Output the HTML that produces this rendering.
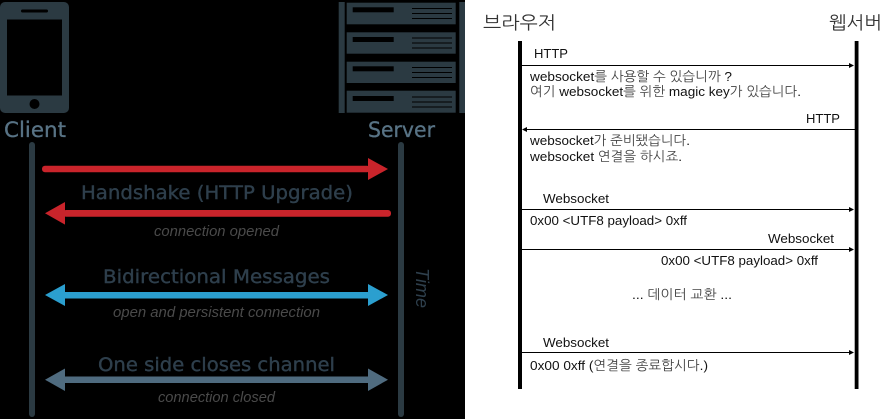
<!DOCTYPE html>
<html>
<head>
<meta charset="utf-8">
<style>
html,body{margin:0;padding:0;background:#fff;width:888px;height:419px;overflow:hidden}
svg{display:block}
.h{font-family:"DejaVu Sans",sans-serif;fill:#2e3f4c;stroke:#2e3f4c;stroke-width:.4px;font-size:19px}
.s{font-family:"Liberation Sans",sans-serif;font-style:italic;fill:#4a4a4a;font-size:15px}
.c{font-family:"DejaVu Sans",sans-serif;fill:#587385;stroke:#587385;stroke-width:.3px;font-size:21px}
.t{font-family:"Liberation Sans","NanumGothic","Noto Sans CJK KR",sans-serif;fill:#111;font-size:13.3px}
.t tspan{fill:#444}
.k{font-family:"NanumGothic","Noto Sans CJK KR",sans-serif;fill:#333;font-size:18px}
</style>
</head>
<body>
<svg width="888" height="419" viewBox="0 0 888 419" xmlns="http://www.w3.org/2000/svg">
<rect x="0" y="0" width="888" height="419" fill="#fff"/>
<rect x="0" y="0" width="465" height="419" fill="#000"/>

<!-- phone -->
<rect x="0" y="2" width="69" height="111" rx="5" fill="#2b3a42"/>
<rect x="7" y="19.5" width="55" height="76" fill="#000"/>
<rect x="21" y="9.5" width="27" height="3" rx="1.5" fill="#000"/>
<circle cx="34.5" cy="104" r="5" fill="#000"/>

<!-- server -->
<g fill="#2b3a42">
<rect x="338.7" y="2" width="6" height="111"/>
<rect x="459.3" y="2" width="5.7" height="111"/>
<rect x="346.7" y="2.7" width="109" height="21.6"/>
<rect x="346.7" y="32.3" width="109" height="21.4"/>
<rect x="346.7" y="61.7" width="109" height="21.3"/>
<rect x="346.7" y="90.7" width="109" height="22"/>
</g>
<g fill="#000">
<rect x="352.7" y="7.3" width="41" height="5"/>
<rect x="352.7" y="37" width="41" height="5"/>
<rect x="352.7" y="66.3" width="41" height="5"/>
<rect x="352.7" y="96" width="41" height="5"/>
<rect x="412" y="8" width="40" height="1"/><rect x="412" y="13" width="40" height="1"/><rect x="412" y="18" width="40" height="1"/>
<rect x="412" y="37.5" width="40" height="1"/><rect x="412" y="42.5" width="40" height="1"/><rect x="412" y="47.5" width="40" height="1"/>
<rect x="412" y="67" width="40" height="1"/><rect x="412" y="72" width="40" height="1"/><rect x="412" y="77" width="40" height="1"/>
<rect x="412" y="96.5" width="40" height="1"/><rect x="412" y="101.5" width="40" height="1"/><rect x="412" y="106.5" width="40" height="1"/>
</g>

<text class="c" x="4" y="137" textLength="62" lengthAdjust="spacingAndGlyphs">Client</text>
<text class="c" x="368" y="137" textLength="67" lengthAdjust="spacingAndGlyphs">Server</text>

<!-- timelines -->
<rect x="29" y="142" width="6" height="275" rx="3" fill="#2b3a42"/>
<rect x="398" y="142" width="6" height="275" rx="3" fill="#2b3a42"/>

<!-- red right -->
<rect x="42" y="165.8" width="328" height="6.5" rx="3" fill="#c9242b"/>
<polygon points="368,158 388,169 368,180" fill="#c9242b"/>
<!-- red left -->
<rect x="63" y="210" width="328" height="6.7" rx="3" fill="#c9242b"/>
<polygon points="65,202 45,213.3 65,224.6" fill="#c9242b"/>
<!-- blue -->
<rect x="63" y="292" width="307" height="6.5" fill="#2b9fcf"/>
<polygon points="65,284 45,295 65,306" fill="#2b9fcf"/>
<polygon points="368,284 388,295 368,306" fill="#2b9fcf"/>
<!-- grey -->
<rect x="63" y="376.5" width="307" height="6.5" fill="#4f6b7f"/>
<polygon points="65,368.5 45,379.7 65,391" fill="#4f6b7f"/>
<polygon points="368,368.5 388,379.7 368,391" fill="#4f6b7f"/>

<text class="h" x="81" y="199" textLength="272" lengthAdjust="spacingAndGlyphs">Handshake (HTTP Upgrade)</text>
<text class="s" x="154" y="236" textLength="125" lengthAdjust="spacingAndGlyphs">connection opened</text>
<text class="h" x="103" y="283" textLength="227" lengthAdjust="spacingAndGlyphs">Bidirectional Messages</text>
<text class="s" x="113" y="317" textLength="207" lengthAdjust="spacingAndGlyphs">open and persistent connection</text>
<text class="h" x="98" y="371" textLength="237" lengthAdjust="spacingAndGlyphs">One side closes channel</text>
<text class="s" x="158" y="402" textLength="117" lengthAdjust="spacingAndGlyphs">connection closed</text>
<text class="s" transform="translate(416,268) rotate(90)" x="0" y="0" textLength="40" lengthAdjust="spacingAndGlyphs" style="fill:#2e3f4c;font-size:18px">Time</text>

<!-- right panel -->
<text class="k" x="483" y="29" textLength="73" lengthAdjust="spacingAndGlyphs">브라우저</text>
<text class="k" x="829" y="29" textLength="53" lengthAdjust="spacingAndGlyphs">웹서버</text>

<rect x="518" y="41" width="4" height="348" fill="#000"/>
<rect x="854.7" y="41" width="3.8" height="348" fill="#000"/>

<g stroke="#000" stroke-width="1">
<line x1="522" y1="65.5" x2="850" y2="65.5"/>
<line x1="526" y1="129.5" x2="855" y2="129.5"/>
<line x1="522" y1="209.5" x2="850" y2="209.5"/>
<line x1="522" y1="249.5" x2="850" y2="249.5"/>
<line x1="522" y1="352.5" x2="850" y2="352.5"/>
</g>
<g fill="#000">
<polygon points="849,63 854,65.5 849,68"/>
<polygon points="527,127 522,129.5 527,132"/>
<polygon points="849,207 854,209.5 849,212"/>
<polygon points="849,247 854,249.5 849,252"/>
<polygon points="849,350 854,352.5 849,355"/>
</g>

<text class="t" x="534" y="58" textLength="34" lengthAdjust="spacingAndGlyphs">HTTP</text>
<text class="t" x="530" y="81" textLength="202" lengthAdjust="spacingAndGlyphs">websocket<tspan>를 사용할 수 있습니까</tspan> ?</text>
<text class="t" x="530" y="96" textLength="271" lengthAdjust="spacingAndGlyphs"><tspan>여기</tspan> websocket<tspan>를 위한</tspan> magic key<tspan>가 있습니다</tspan>.</text>
<text class="t" x="806" y="123" textLength="34" lengthAdjust="spacingAndGlyphs">HTTP</text>
<text class="t" x="530" y="145" textLength="160" lengthAdjust="spacingAndGlyphs">websocket<tspan>가 준비됐습니다</tspan>.</text>
<text class="t" x="530" y="161" textLength="152" lengthAdjust="spacingAndGlyphs">websocket <tspan>연결을 하시죠</tspan>.</text>
<text class="t" x="543" y="203" textLength="66" lengthAdjust="spacingAndGlyphs">Websocket</text>
<text class="t" x="530" y="225" textLength="157" lengthAdjust="spacingAndGlyphs">0x00 &lt;UTF8 payload&gt; 0xff</text>
<text class="t" x="768" y="243" textLength="66" lengthAdjust="spacingAndGlyphs">Websocket</text>
<text class="t" x="661" y="265" textLength="157" lengthAdjust="spacingAndGlyphs">0x00 &lt;UTF8 payload&gt; 0xff</text>
<text class="t" x="632" y="299" textLength="100" lengthAdjust="spacingAndGlyphs">... <tspan>데이터 교환</tspan> ...</text>
<text class="t" x="543" y="347" textLength="66" lengthAdjust="spacingAndGlyphs">Websocket</text>
<text class="t" x="530" y="370" textLength="178" lengthAdjust="spacingAndGlyphs">0x00 0xff (<tspan>연결을 종료합시다</tspan>.)</text>
</svg>
</body>
</html>
